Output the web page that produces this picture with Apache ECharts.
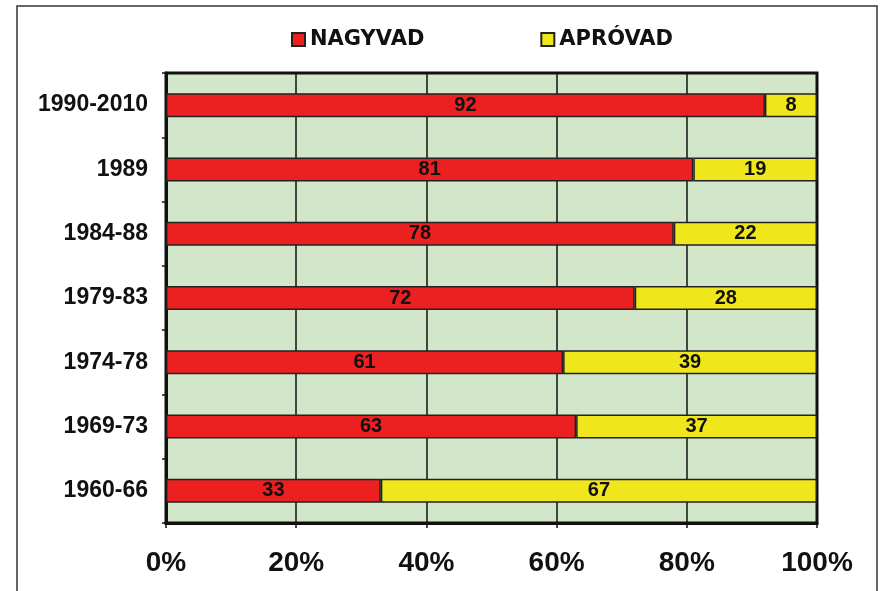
<!DOCTYPE html>
<html>
<head>
<meta charset="utf-8">
<script src="https://cdn.jsdelivr.net/npm/echarts@6/dist/echarts.min.js"></script>
<style>
  html, body { margin: 0; padding: 0; background: #fff; }
  #chart { width: 884px; height: 591px; }
</style>
</head>
<body>
<div id="chart"></div>
<script>
// adatok
const categories = ['1960-66', '1969-73', '1974-78', '1979-83', '1984-88', '1989', '1990-2010']
const nagyvad = [33, 63, 61, 72, 78, 81, 92]
const aprovad = [67, 37, 39, 28, 22, 19, 8]
const xTicks = [0, 20, 40, 60, 80, 100]

const chart = echarts.init(document.getElementById('chart'))

const arial = 'Liberation Sans, Arial, sans-serif'
const wideFont = 'DejaVu Sans, Liberation Sans, Arial, sans-serif'

const labelStyle = {
  show: true,
  position: 'inside',
  color: '#111',
  fontFamily: arial,
  fontWeight: 'bold',
  fontSize: 20
}

const option = {
  animation: false,
  backgroundColor: '#fff',
  graphic: [
    {
      type: 'rect',
      shape: { x: 17, y: 6, width: 860, height: 600 },
      style: { fill: 'none', stroke: '#333', lineWidth: 1.5 },
      silent: true
    }
  ],
  legend: {
    top: 24,
    left: 286,
    itemGap: 116,
    itemWidth: 13,
    itemHeight: 13,
    icon: 'rect',
    textStyle: {
      color: '#111',
      fontFamily: wideFont,
      fontWeight: 'bold',
      fontSize: 21
    },
    data: ['NAGYVAD', 'APRÓVAD']
  },
  grid: {
    left: 166,
    right: 67,
    top: 73,
    bottom: 68,
    show: true,
    backgroundColor: '#d2e7c9',
    borderColor: '#111',
    borderWidth: 3
  },
  xAxis: {
    type: 'value',
    min: 0,
    max: 100,
    interval: 20,
    axisLine: { show: true, lineStyle: { color: '#111', width: 3 } },
    axisTick: { show: true, length: 5, lineStyle: { color: '#111', width: 1.5 } },
    axisLabel: {
      margin: 26,
      color: '#111',
      fontFamily: arial,
      fontWeight: 'bold',
      fontSize: 28,
      formatter: v => (xTicks.includes(v) ? v + '%' : '')
    },
    splitLine: { show: true, lineStyle: { color: '#111', width: 1.5 } }
  },
  yAxis: {
    type: 'category',
    data: categories,
    axisLine: { show: true, lineStyle: { color: '#111', width: 3 } },
    axisTick: { show: true, length: 4, lineStyle: { color: '#111', width: 1.5 } },
    axisLabel: {
      margin: 18,
      color: '#111',
      fontFamily: arial,
      fontWeight: 'bold',
      fontSize: 23
    }
  },
  series: [
    {
      name: 'NAGYVAD',
      type: 'bar',
      stack: 'total',
      barWidth: 24,
      data: nagyvad,
      itemStyle: { color: '#ec2020', borderColor: '#222', borderWidth: 1.5 },
      label: labelStyle
    },
    {
      name: 'APRÓVAD',
      type: 'bar',
      stack: 'total',
      barWidth: 24,
      data: aprovad,
      itemStyle: { color: '#f0e61c', borderColor: '#222', borderWidth: 1.5 },
      label: labelStyle
    }
  ]
}

chart.setOption(option)
</script>
</body>
</html>
